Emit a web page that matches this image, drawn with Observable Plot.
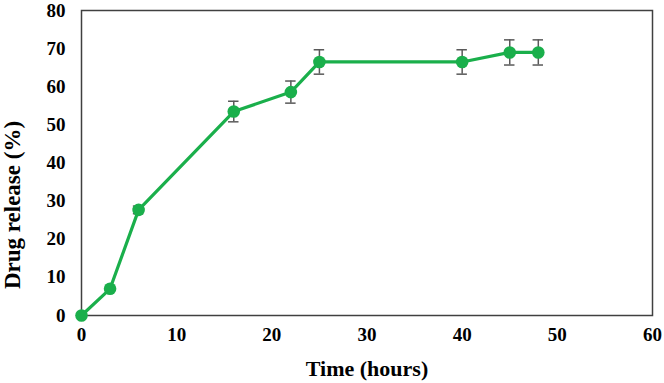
<!DOCTYPE html>
<html><head><meta charset="utf-8">
<script src="https://cdn.jsdelivr.net/npm/d3@7"></script>
<script src="https://cdn.jsdelivr.net/npm/@observablehq/plot@0.6"></script>
<style>body{margin:0;background:#fff}
svg [aria-label="x-axis label"]{font-size:22px}
svg [aria-label="y-axis label"]{font-size:23px}</style>
</head><body><div id="chart"></div>
<script>
const time = [0, 3, 6, 16, 22, 25, 40, 45, 48];
const release = [0, 7, 27.7, 53.5, 58.6, 66.5, 66.5, 69, 69];
const errors = [0, 0, 1, 2.7, 2.9, 3.2, 3.2, 3.3, 3.3];
const xTicks = [0, 10, 20, 30, 40, 50, 60];
const yTicks = [0, 10, 20, 30, 40, 50, 60, 70, 80];

const data = time.map((t, i) => ({t, r: release[i], lo: release[i] - errors[i], hi: release[i] + errors[i], e: errors[i]}));
const eb = data.filter(d => d.e > 0);
const caps = eb.flatMap(d => [{t: d.t, v: d.lo}, {t: d.t, v: d.hi}]);
const capHalf = 0.55;
const font = "'Liberation Serif', 'Times New Roman', serif";

const chart = Plot.plot({
  width: 664, height: 383,
  marginLeft: 81, marginRight: 12, marginTop: 10, marginBottom: 68,
  style: {fontFamily: font, fontWeight: "bold", fontSize: "19px", color: "#000", background: "#fff"},
  x: {type: "linear", domain: [0, 60], ticks: xTicks, tickSize: 0, tickPadding: 12, label: "Time (hours)", labelAnchor: "center", labelArrow: "none", labelOffset: 60},
  y: {type: "linear", domain: [0, 80], ticks: yTicks, tickSize: 0, tickPadding: 16, label: "Drug release (%)", labelAnchor: "center", labelArrow: "none", labelOffset: 78},
  marks: [
    Plot.frame({stroke: "#404040", strokeWidth: 1.5}),
    Plot.ruleX(eb, {x: "t", y1: "lo", y2: "hi", stroke: "#595959", strokeWidth: 1.5}),
    Plot.ruleY(caps, {y: "v", x1: d => d.t - capHalf, x2: d => d.t + capHalf, stroke: "#595959", strokeWidth: 1.5}),
    Plot.line(data, {x: "t", y: "r", stroke: "#1aaf4b", strokeWidth: 3.2}),
    Plot.dot(data, {x: "t", y: "r", r: 6.3, fill: "#1aaf4b"})
  ]
});
// Move the y-axis title down as in the reference (it sits below the plot's centre)
d3.select(chart).selectAll('[aria-label="y-axis label"] text').attr("x", -42);
document.getElementById("chart").appendChild(chart);
</script></body></html>
